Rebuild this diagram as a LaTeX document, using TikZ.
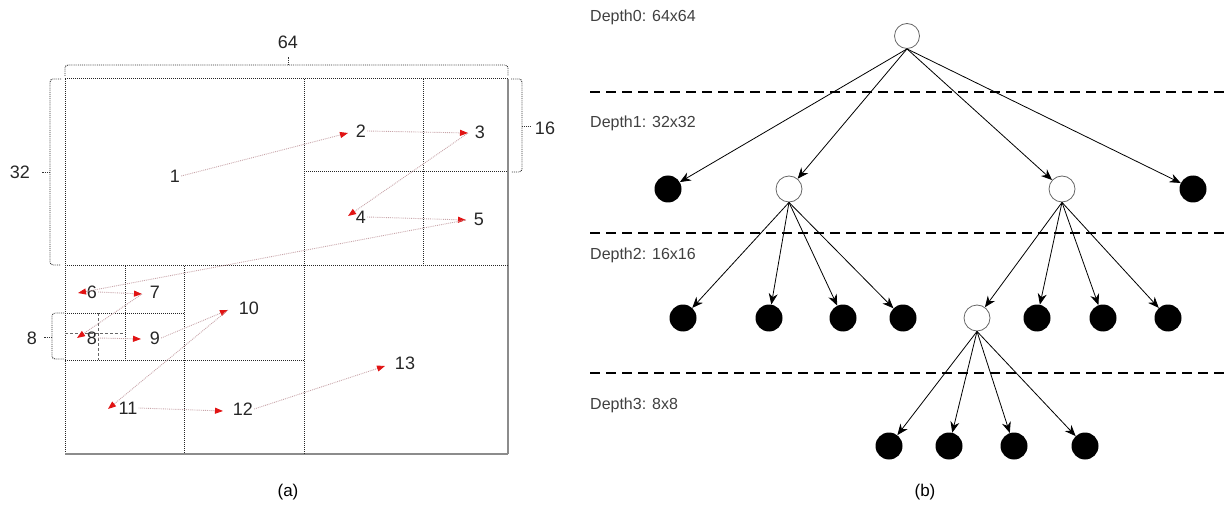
\documentclass[tikz,border=0pt]{standalone}
\usepackage{fontspec}
\setmainfont{Liberation Sans}
\usetikzlibrary{arrows.meta}
\definecolor{zpink}{RGB}{200,165,170}
\definecolor{zred}{RGB}{225,20,20}
\begin{document}
\begin{tikzpicture}[x=1pt,y=-1pt,
  gridline/.style={draw=black!85, densely dotted, line width=1pt},
  edgeline/.style={draw=gray!90, line width=1.2pt},
  subdash/.style={draw=black!60, dash pattern=on 3pt off 2pt, line width=0.9pt},
  bracepath/.style={draw=black!80, densely dotted, line width=0.9pt, rounded corners=3pt},
  num/.style={font=\fontsize{18}{18}\selectfont, text=black!85, inner sep=1pt},
  zline/.style={draw=zpink, densely dotted, line width=0.9pt, -{Triangle[length=8pt,width=6pt,color=zred]}},
  opennode/.style={circle, draw=black!60, line width=0.8pt, minimum size=26pt, inner sep=0pt},
  fullnode/.style={circle, fill=black, minimum size=27pt, inner sep=0pt},
  tedge/.style={draw=black, line width=0.8pt, -{Stealth[length=11pt,width=9pt]}},
  levelline/.style={draw=black, line width=2.2pt, dash pattern=on 10pt off 6pt},
  depthlabel/.style={anchor=west, font=\fontsize{16}{16}\selectfont, text=black!75, inner sep=0pt},
  caption/.style={font=\fontsize{17}{17}\selectfont}
]
\useasboundingbox (0,0) rectangle (1224,505);

% ---------- panel (a): grid ----------
\draw[gridline] (65,79) -- (508,79);
\draw[gridline] (65,79) -- (65,454);
\draw[edgeline] (508,79) -- (508,454);
\draw[edgeline] (65,454) -- (508,454);
\draw[gridline] (304,79) -- (304,454);
\draw[gridline] (65,266) -- (508,266);
\draw[gridline] (423,79) -- (423,266);
\draw[gridline] (304,172) -- (508,172);
\draw[gridline] (184,266) -- (184,454);
\draw[gridline] (65,360) -- (304,360);
\draw[gridline] (125,266) -- (125,360);
\draw[gridline] (65,313) -- (184,313);
\draw[subdash] (98,313) -- (98,360);
\draw[subdash] (65,333) -- (125,333);

% braces
\draw[bracepath] (65,76) -- (65,65) -- (508,65) -- (508,76);
\draw[bracepath] (288,65) -- (288,57);
\node[num] (s64) at (288,42) {64};
\draw[bracepath] (61,79) -- (50,79) -- (50,265) -- (61,265);
\draw[bracepath] (50,172) -- (42,172);
\node[num] (s32) at (20,172) {32};
\draw[bracepath] (511,79) -- (522,79) -- (522,172) -- (511,172);
\draw[bracepath] (522,126) -- (531,126);
\node[num] (s16) at (545,128) {16};
\draw[bracepath] (64,313) -- (52,313) -- (52,359) -- (64,359);
\draw[bracepath] (52,337) -- (44,337);
\node[num] (s8) at (32,338) {8};

% labels
\node[num] (n1) at (175,176) {1};
\node[num] (n2) at (361,131) {2};
\node[num] (n3) at (480,132) {3};
\node[num] (n4) at (361,217) {4};
\node[num] (n5) at (479,219) {5};
\node[num] (n6) at (92,292) {6};
\node[num] (n7) at (155,292) {7};
\node[num] (n8) at (92,338) {8};
\node[num] (n9) at (155,338) {9};
\node[num] (n10) at (249,308) {10};
\node[num] (n11) at (128,408) {11};
\node[num] (n12) at (243,409) {12};
\node[num] (n13) at (405,363) {13};

\coordinate (p2) at (348,133);
\coordinate (p3) at (468,133);
\coordinate (p4) at (348,216);
\coordinate (p5) at (466,220);
\coordinate (p6) at (78,293);
\coordinate (p7) at (142,294);
\coordinate (p8) at (77,338);
\coordinate (p9) at (141,339);
\coordinate (p10) at (228,310);
\coordinate (p11) at (108,409);
\coordinate (p12) at (223,411);
\coordinate (p13) at (385,366);

\draw[zline] (n1.east) -- (p2);
\draw[zline] (n2.east) -- (p3);
\draw[zline] (p3) -- (p4);
\draw[zline] (n4.east) -- (p5);
\draw[zline] (p5) -- (p6);
\draw[zline] (n6.east) -- (p7);
\draw[zline] (p7) -- (p8);
\draw[zline] (n8.east) -- (p9);
\draw[zline] (n9.east) -- (p10);
\draw[zline] (p10) -- (p11);
\draw[zline] (n11.east) -- (p12);
\draw[zline] (n12.east) -- (p13);

\node[caption] (capa) at (288,492) {(a)};

% ---------- panel (b): tree ----------
\draw[levelline] (590,92) -- (1224,92);
\draw[levelline] (590,233) -- (1224,233);
\draw[levelline] (590,373) -- (1224,373);

\node[depthlabel] (l0) at (590,17) {Depth0: 64x64};
\node[depthlabel] (l1) at (590,123) {Depth1: 32x32};
\node[depthlabel] (l2) at (590,255) {Depth2: 16x16};
\node[depthlabel] (l3) at (590,405) {Depth3: 8x8};

\node[opennode, minimum size=25pt] (r) at (907,36) {};
\node[fullnode] (a1) at (668,189) {};
\node[opennode] (a2) at (789,189) {};
\node[opennode] (a3) at (1062,189) {};
\node[fullnode] (a4) at (1193,189) {};
\node[fullnode] (b1) at (683,318) {};
\node[fullnode] (b2) at (769,318) {};
\node[fullnode] (b3) at (843,318) {};
\node[fullnode] (b4) at (903,318) {};
\node[opennode] (c1) at (977,318) {};
\node[fullnode] (c2) at (1037,318) {};
\node[fullnode] (c3) at (1103,318) {};
\node[fullnode] (c4) at (1168,318) {};
\node[fullnode] (d1) at (889,446) {};
\node[fullnode] (d2) at (949,446) {};
\node[fullnode] (d3) at (1014,446) {};
\node[fullnode] (d4) at (1085,446) {};

\foreach \c in {a1,a2,a3,a4} \draw[tedge] (r.south) -- (\c);
\foreach \c in {b1,b2,b3,b4} \draw[tedge] (a2.south) -- (\c);
\foreach \c in {c1,c2,c3,c4} \draw[tedge] (a3.south) -- (\c);
\foreach \c in {d1,d2,d3,d4} \draw[tedge] (c1.south) -- (\c);

\node[caption] (capb) at (925,492) {(b)};
\end{tikzpicture}
\end{document}
